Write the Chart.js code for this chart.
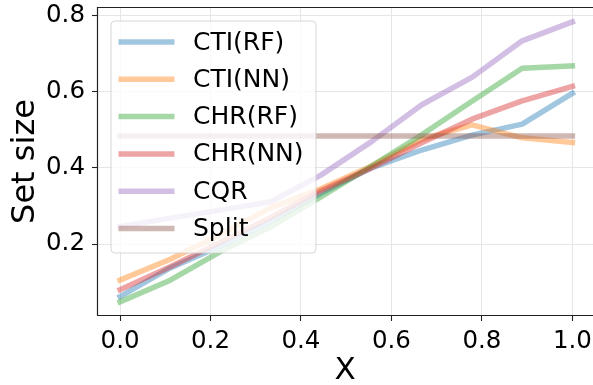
<!DOCTYPE html>
<html>
<head>
<meta charset="utf-8">
<script src="https://cdn.jsdelivr.net/npm/chart.js@4.4.1/dist/chart.umd.min.js"></script>
<style>
  html, body { margin: 0; padding: 0; background: #ffffff; overflow: hidden; }
  #wrap { width: 593px; height: 385px; }
</style>
</head>
<body>
<div id="wrap"><canvas id="c" width="593" height="385"></canvas></div>
<script>
// ---- data ----
const xValues = [0.0, 0.111, 0.222, 0.333, 0.444, 0.556, 0.667, 0.778, 0.889, 1.0];
const seriesNames = ["CTI(RF)", "CTI(NN)", "CHR(RF)", "CHR(NN)", "CQR", "Split"];
const ctiRF  = [0.062, 0.137, 0.195, 0.260, 0.333, 0.400, 0.447, 0.486, 0.515, 0.596];
const ctiNN  = [0.105, 0.160, 0.225, 0.295, 0.345, 0.405, 0.475, 0.513, 0.479, 0.467];
const chrRF  = [0.048, 0.105, 0.180, 0.245, 0.324, 0.405, 0.487, 0.575, 0.662, 0.668];
const chrNN  = [0.080, 0.140, 0.205, 0.270, 0.340, 0.400, 0.466, 0.528, 0.576, 0.614];
const cqr    = [0.246, 0.268, 0.289, 0.311, 0.381, 0.469, 0.566, 0.638, 0.734, 0.784];
const split  = [0.484, 0.484, 0.484, 0.484, 0.484, 0.484, 0.484, 0.484, 0.484, 0.484];
const xTicks = [0.0, 0.2, 0.4, 0.6, 0.8, 1.0];
const yTicks = [0.2, 0.4, 0.6, 0.8];

// ---- styles ----
const baseColors = [[31,119,180],[255,127,14],[44,160,44],[214,39,40],[148,103,189],[140,86,75]];
const alpha = 0.42;
const rgba = c => `rgba(${c[0]},${c[1]},${c[2]},${alpha})`;
const FONT = '"DejaVu Sans", "Liberation Sans", sans-serif';
const allSeries = [ctiRF, ctiNN, chrRF, chrNN, cqr, split];

const datasets = allSeries.map((vals, i) => ({
  label: seriesNames[i],
  data: vals.map((v, j) => ({ x: xValues[j], y: v })),
  borderColor: rgba(baseColors[i]),
  backgroundColor: rgba(baseColors[i]),
  borderWidth: 5.5,
  pointRadius: 0,
  pointHoverRadius: 0,
  tension: 0,
  fill: false,
  borderCapStyle: 'square',
  borderJoinStyle: 'round',
  order: allSeries.length - 1 - i
}));

const frameAndLegend = {
  id: 'frameAndLegend',
  afterDatasetsDraw(chart) {
    const ctx = chart.ctx;
    const a = chart.chartArea;
    ctx.save();
    // spines (left, top, bottom; right one lies at the image edge)
    ctx.strokeStyle = '#222222';
    ctx.lineWidth = 1.2;
    ctx.beginPath();
    ctx.moveTo(a.right + 2, a.top + 0.5);
    ctx.lineTo(a.left + 0.5, a.top + 0.5);
    ctx.lineTo(a.left + 0.5, a.bottom - 0.5);
    ctx.lineTo(a.right + 2, a.bottom - 0.5);
    ctx.stroke();
    // legend
    const bx = a.left + 14, by = a.top + 14, bw = 205, bh = 232;
    ctx.beginPath();
    ctx.roundRect(bx, by, bw, bh, 4);
    ctx.fillStyle = 'rgba(255,255,255,0.8)';
    ctx.fill();
    ctx.strokeStyle = 'rgba(204,204,204,0.8)';
    ctx.lineWidth = 1;
    ctx.stroke();
    ctx.font = '25px ' + FONT;
    ctx.textBaseline = 'middle';
    ctx.textAlign = 'left';
    chart.data.datasets.forEach((ds, i) => {
      const cy = by + 21 + i * 37.3;
      ctx.beginPath();
      ctx.strokeStyle = ds.borderColor;
      ctx.lineWidth = 5.5;
      ctx.lineCap = 'butt';
      ctx.moveTo(bx + 7.5, cy);
      ctx.lineTo(bx + 63.5, cy);
      ctx.stroke();
      ctx.fillStyle = '#000000';
      ctx.fillText(ds.label, bx + 82, cy + 1);
    });
    ctx.restore();
  }
};

new Chart(document.getElementById('c'), {
  type: 'line',
  data: { datasets },
  plugins: [frameAndLegend],
  options: {
    responsive: false,
    animation: false,
    devicePixelRatio: 1,
    layout: { padding: { top: 7, right: 0, bottom: 0, left: 0 } },
    plugins: { legend: { display: false }, tooltip: { enabled: false } },
    scales: {
      x: {
        type: 'linear',
        min: -0.0509,
        max: 1.0456,
        afterBuildTicks: s => { s.ticks = xTicks.map(v => ({ value: v })); },
        afterFit: s => { s.height = 69; s.paddingLeft = 0; s.paddingRight = 0; },
        ticks: {
          callback: v => Number(v).toFixed(1),
          font: { family: FONT, size: 24.5 },
          color: '#000000',
          padding: 6,
          maxRotation: 0,
          autoSkip: false
        },
        grid: { color: '#e6e6e6', lineWidth: 1, drawTicks: true, tickLength: 5, tickColor: '#222222', tickWidth: 1.1 },
        border: { display: false },
        title: {
          display: true, text: 'X', color: '#000000',
          font: { family: FONT, size: 31, lineHeight: 1 },
          padding: { top: 0, bottom: -1.5 }
        }
      },
      y: {
        type: 'linear',
        min: 0.0108,
        max: 0.8229,
        afterBuildTicks: s => { s.ticks = yTicks.map(v => ({ value: v })); },
        afterFit: s => { s.width = 97; s.paddingTop = 0; s.paddingBottom = 0; },
        ticks: {
          callback: v => Number(v).toFixed(1),
          font: { family: FONT, size: 24.5 },
          color: '#000000',
          padding: 7,
          autoSkip: false
        },
        grid: { color: '#e6e6e6', lineWidth: 1, drawTicks: true, tickLength: 5, tickColor: '#222222', tickWidth: 1.1 },
        border: { display: false },
        title: {
          display: true, text: 'Set size', color: '#000000',
          font: { family: FONT, size: 32, lineHeight: 1.2 },
          padding: { top: 6, bottom: 0 }
        }
      }
    }
  }
});
</script>
</body>
</html>
